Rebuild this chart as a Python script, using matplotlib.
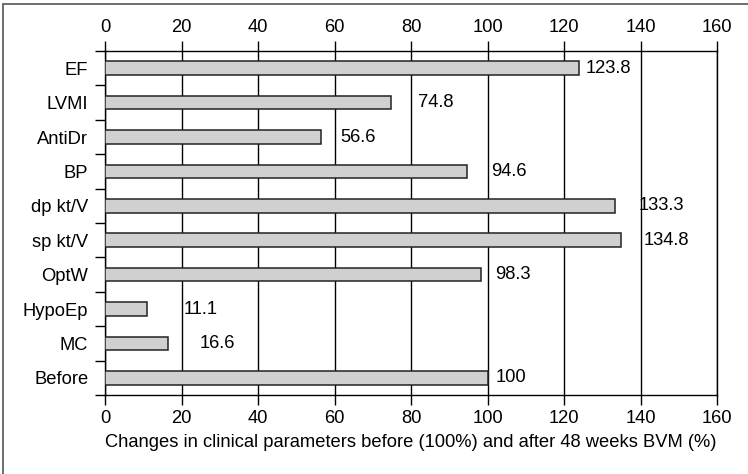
import numpy as np
import matplotlib.pyplot as plt
from matplotlib.patches import Rectangle

# data (top to bottom)
categories = ["EF", "LVMI", "AntiDr", "BP", "dp kt/V", "sp kt/V", "OptW", "HypoEp", "MC", "Before"]
values = [123.8, 74.8, 56.6, 94.6, 133.3, 134.8, 98.3, 11.1, 16.6, 100]
value_labels = ["123.8", "74.8", "56.6", "94.6", "133.3", "134.8", "98.3", "11.1", "16.6", "100"]
# where the value labels start (x, data units) - they are not evenly offset in the original
label_x = [125.7, 81.8, 61.4, 100.9, 139.6, 140.7, 102.0, 20.6, 24.8, 102.0]

plt.rcParams['font.family'] = ['Liberation Sans', 'DejaVu Sans']
plt.rcParams['font.size'] = 13.2

fig = plt.figure(figsize=(7.48, 4.74), dpi=100)
ax = fig.add_axes([105/748, 1 - 395/474, 612/748, 344/474])

# outer frame of the figure
fig.patches.append(Rectangle((3/748, -0.1), 1.1, 1 - 4/474 + 0.1, transform=fig.transFigure,
                             fill=False, edgecolor='#555555', linewidth=1.2))

y = np.arange(len(categories))
ax.barh(y, values, height=0.4, color='#d0d0d0', edgecolor='#222222', linewidth=1.1, zorder=3)

for yi, lx, txt in zip(y, label_x, value_labels):
    ax.text(lx, yi, txt, va='center', ha='left', zorder=4)

ax.set_xlim(0, 160)
ax.set_ylim(len(categories) - 0.5, -0.5)
ax.set_xticks(np.arange(0, 161, 20))
ax.tick_params(axis='x', top=True, labeltop=True, bottom=True, labelbottom=True,
               direction='out', length=7, width=1, pad=4)

ax.set_yticks(y)
ax.set_yticklabels(categories)
ax.tick_params(axis='y', which='major', length=0, pad=12)
ax.set_yticks(np.arange(-0.5, len(categories)), minor=True)
ax.tick_params(axis='y', which='minor', length=7, width=1, direction='out')

ax.grid(axis='x', color='black', linewidth=1, zorder=1)
ax.set_axisbelow(True)
for side in ['top', 'bottom', 'left', 'right']:
    ax.spines[side].set_linewidth(1)
    ax.spines[side].set_color('black')

ax.set_xlabel("Changes in clinical parameters before (100%) and after 48 weeks BVM (%)", labelpad=5)

fig.savefig("out.png", dpi=100)
